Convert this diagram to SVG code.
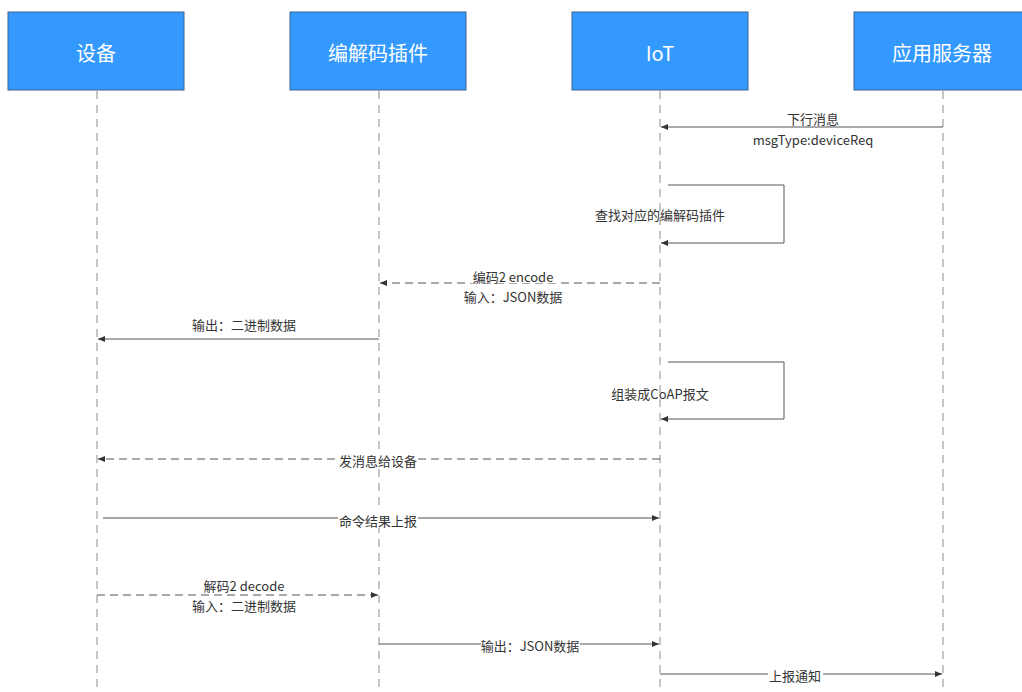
<svg xmlns="http://www.w3.org/2000/svg" width="1022" height="692" viewBox="0 0 1022 692">
<style>
.box{fill:#3399FF;stroke:#3A6591;stroke-width:1}
.title{font-family:"Noto Sans CJK SC","Noto Sans",sans-serif;font-size:20px;fill:#fff;text-anchor:middle;dominant-baseline:central}
.life{stroke:#A0A0A0;stroke-width:1.2;stroke-dasharray:8 6;fill:none}
.msg{stroke:#555;stroke-width:1;fill:none}
.dash{stroke-dasharray:8 5}
.lbl{font-family:"Noto Sans CJK SC","Noto Sans",sans-serif;font-size:13px;fill:#333;text-anchor:middle;dominant-baseline:central}
.bg{fill:#fff}
</style>
<defs>
<marker id="ah" markerWidth="8" markerHeight="8" refX="7" refY="4" orient="auto" markerUnits="userSpaceOnUse">
<path d="M0,1 L7,4 L0,7 Z" fill="#333"/>
</marker>
</defs>
<g id="lifelines">
<line class="life" x1="97" y1="91" x2="97" y2="692"/>
<line class="life" x1="379" y1="91" x2="379" y2="692"/>
<line class="life" x1="660" y1="91" x2="660" y2="692"/>
<line class="life" x1="943" y1="91" x2="943" y2="692"/>
</g>
<g id="node-device"><rect class="box" x="8" y="12" width="176" height="78"/><text class="title" x="96" y="52">设备</text></g>
<g id="node-codec"><rect class="box" x="290" y="12" width="176" height="78"/><text class="title" x="378" y="52">编解码插件</text></g>
<g id="node-iot"><rect class="box" x="572" y="12" width="176" height="78"/><text class="title" x="660" y="52">IoT</text></g>
<g id="node-app"><rect class="box" x="854" y="12" width="176" height="78"/><text class="title" x="942" y="52">应用服务器</text></g>
<g id="connectors">
<line class="msg" x1="943" y1="127" x2="661" y2="127" marker-end="url(#ah)"/>
<rect class="bg" x="783" y="110" width="60" height="16"/>
<text class="lbl" x="813" y="118">下行消息</text>
<text class="lbl" x="813" y="139">msgType:deviceReq</text>

<path class="msg" d="M668,185 H784 V243 H661" marker-end="url(#ah)"/>
<text class="lbl" x="660" y="214">查找对应的编解码插件</text>

<line class="msg dash" x1="660" y1="283" x2="380" y2="283" marker-end="url(#ah)"/>
<rect class="bg" x="470" y="268" width="86" height="15"/>
<text class="lbl" x="513" y="276">编码2 encode</text>
<text class="lbl" x="513" y="296">输入：JSON数据</text>

<line class="msg" x1="379" y1="339" x2="98" y2="339" marker-end="url(#ah)"/>
<text class="lbl" x="244" y="324">输出：二进制数据</text>

<path class="msg" d="M668,362 H784 V419 H661" marker-end="url(#ah)"/>
<text class="lbl" x="660" y="393">组装成CoAP报文</text>

<line class="msg dash" x1="660" y1="459" x2="98" y2="459" marker-end="url(#ah)"/>
<rect class="bg" x="338" y="451" width="80" height="18"/>
<text class="lbl" x="378" y="460">发消息给设备</text>

<line class="msg" x1="103" y1="518" x2="659" y2="518" marker-end="url(#ah)" style="stroke:#888;stroke-width:1.3"/>
<rect class="bg" x="338" y="510" width="80" height="18"/>
<text class="lbl" x="378" y="520">命令结果上报</text>

<line class="msg dash" x1="97" y1="595" x2="378" y2="595" marker-end="url(#ah)"/>
<rect class="bg" x="201" y="577" width="86" height="17"/>
<text class="lbl" x="244" y="585">解码2 decode</text>
<text class="lbl" x="244" y="605">输入：二进制数据</text>

<line class="msg" x1="379" y1="644" x2="659" y2="644" marker-end="url(#ah)"/>
<rect class="bg" x="481" y="636" width="99" height="18"/>
<text class="lbl" x="530" y="645">输出：JSON数据</text>

<line class="msg" x1="660" y1="674" x2="942" y2="674" marker-end="url(#ah)"/>
<rect class="bg" x="768" y="666" width="55" height="18"/>
<text class="lbl" x="795" y="675">上报通知</text>
</g>
</svg>
